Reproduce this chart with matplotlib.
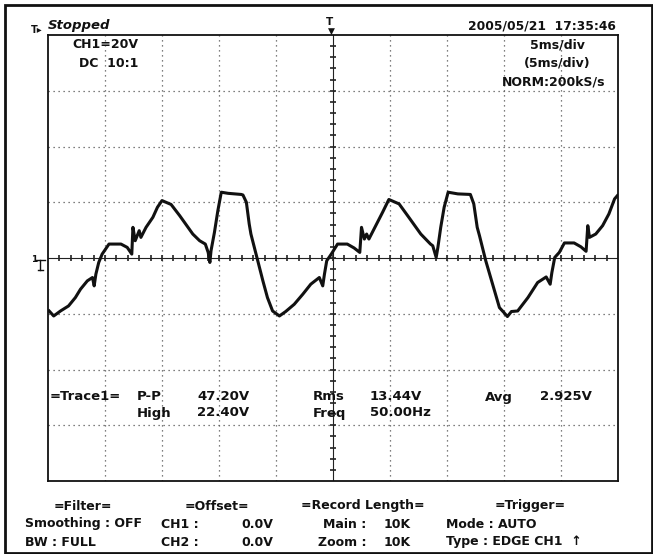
import matplotlib
matplotlib.use("Agg")
import matplotlib.pyplot as plt
from matplotlib.patches import Rectangle

# Scope settings
volts_per_div = 20
ms_per_div = 5

# CH1 trace (time in ms, voltage in V)
t_ms = [0.1, 0.5, 1.1, 1.8, 2.4, 2.85, 3.45, 3.9, 4.05, 4.2, 4.45, 4.75,
        5.35, 6.4, 6.95, 7.35, 7.45, 7.65, 8.0, 8.15, 8.6, 9.2, 9.6, 10.0,
        10.8, 11.55, 12.7, 13.3, 13.8, 14.05, 14.2, 14.3, 14.6, 14.9, 15.2,
        15.8, 16.95, 17.1, 17.4, 17.65, 17.8, 18.1, 18.4, 18.85, 19.25, 19.7,
        20.3, 20.85, 21.6, 22.35, 23.05, 23.8, 24.1, 24.25, 24.45, 24.85,
        25.4, 26.25, 26.85, 27.35, 27.5, 27.75, 27.95, 28.15, 28.6, 29.35,
        29.9, 30.8, 31.65, 32.7, 33.55, 33.75, 34.05, 34.2, 34.45, 34.75,
        35.1, 35.95, 37.05, 37.35, 37.65, 37.85, 38.4, 39.0, 39.6, 40.0,
        40.3, 40.65, 41.2, 42.1, 42.95, 43.7, 44.05, 44.2, 44.45, 44.85,
        45.3, 46.15, 46.75, 47.2, 47.35, 47.5, 48.05, 48.65, 49.2, 49.7, 49.95]
ch1_v = [-19.0, -20.8, -19.0, -17.2, -14.2, -11.2, -8.2, -7.0, -10.0, -5.8, -1.6, 1.4,
         5.0, 5.0, 3.8, 1.4, 11.0, 6.2, 9.8, 7.4, 11.0, 14.6, 18.2, 20.6,
         19.2, 15.2, 8.6, 6.2, 5.0, 2.0, -1.6, 2.6, 9.2, 17.0, 23.6,
         23.2, 22.8, 22.6, 20.0, 12.2, 8.6, 3.8, -1.0, -8.2, -14.2, -19.0,
         -20.8, -19.2, -16.6, -13.0, -9.4, -7.0, -10.0, -5.8, -1.0, 1.4,
         5.0, 5.0, 3.6, 2.0, 11.0, 6.8, 8.6, 6.8, 10.4, 16.4,
         21.0, 19.4, 14.6, 8.6, 5.0, 4.4, 0.2, 3.8, 11.0, 18.2,
         23.6, 23.0, 22.8, 19.4, 11.0, 8.0, -1.0, -9.4, -17.8, -19.6,
         -21.0, -19.2, -19.0, -14.2, -8.8, -6.8, -9.4, -5.2, 0.2, 2.0,
         5.4, 5.4, 4.0, 2.4, 11.6, 7.4, 8.6, 11.6, 15.8, 21.2, 22.4]

# Readouts
meas_labels = [["P-P", "47.20V"], ["High", "22.40V"],
               ["Rms", "13.44V"], ["Freq", "50.00Hz"], ["Avg", "2.925V"]]

W, H = 653, 554
fig = plt.figure(figsize=(W / 100, H / 100), dpi=100)
fig.patch.set_facecolor("white")


def fx(x):
    return x / W


def fy(y):
    return 1 - y / H


def put(x, y, s, size=9, ha="left", **kw):
    kw.setdefault("weight", "bold")
    fig.text(fx(x), fy(y), s, ha=ha, va="center", fontsize=size,
             family="DejaVu Sans", color="#111111", **kw)


# outer frame of the printout
fig.add_artist(Rectangle((fx(5), fy(553)), fx(647), 548 / H, transform=fig.transFigure,
                         fill=False, lw=2.0, ec="#111111"))

# graticule
ax = fig.add_axes([fx(48), fy(481), 570 / W, 446 / H])
xmax = 10 * ms_per_div
ymax = 4 * volts_per_div
ax.set_xlim(0, xmax)
ax.set_ylim(-ymax, ymax)
ax.set_xticks([])
ax.set_yticks([])
for s in ax.spines.values():
    s.set_linewidth(1.3)
    s.set_color("#111111")

for k in range(1, 10):
    if k != 5:
        ax.axvline(k * ms_per_div, color="#555555", lw=0.9, ls=(0, (1, 3)))
for k in range(-3, 4):
    if k != 0:
        ax.axhline(k * volts_per_div, color="#555555", lw=0.9, ls=(0, (1, 3)))

# centre cross with minor ticks every 1/5 division
ax.axhline(0, color="#222222", lw=0.8)
ax.axvline(xmax / 2, color="#222222", lw=0.8)
minor_t = [i * ms_per_div / 5 for i in range(1, 50)]
minor_v = [i * volts_per_div / 5 for i in range(-19, 20)]
ax.plot(minor_t, [0] * len(minor_t), ls="none", marker="|", ms=5, mew=1.2, color="#222222")
ax.plot([xmax / 2] * len(minor_v), minor_v, ls="none", marker="_", ms=5, mew=1.2, color="#222222")

# the trace
ax.plot(t_ms, ch1_v, color="#111111", lw=2.2, solid_joinstyle="round", zorder=5)

# header
put(48, 26, "Stopped", size=9.5, style="italic")
put(31, 30, "T\u25B8", size=7)
put(330, 22, "T", size=7.5, ha="center")
fig.text(fx(331), fy(31), "\u25BC", fontsize=6.5, ha="center", va="center", color="#111111")
put(616, 26, "2005/05/21  17:35:46", size=8.8, ha="right")
put(138, 45, "CH1=20V", size=9, ha="right")
put(138, 63, "DC  10:1", size=9, ha="right")
put(557, 45, "5ms/div", size=9, ha="center")
put(557, 63, "(5ms/div)", size=9, ha="center")
put(554, 82, "NORM:200kS/s", size=9, ha="center")

# ground marker for CH1
put(31, 259, "1", size=6.5)
gx = fx(40)
fig.add_artist(plt.Line2D([fx(36), fx(45)], [fy(260), fy(260)], color="#111111", lw=1))
fig.add_artist(plt.Line2D([gx, gx], [fy(260), fy(270)], color="#111111", lw=1))
fig.add_artist(plt.Line2D([fx(37.5), fx(42.5)], [fy(270), fy(270)], color="#111111", lw=1))

# measurements
msz = 9.5
put(50, 397, "=Trace1=", size=msz)
put(137, 397, meas_labels[0][0], size=msz)
put(197, 397, meas_labels[0][1], size=msz)
put(137, 413, meas_labels[1][0], size=msz)
put(197, 413, meas_labels[1][1], size=msz)
put(313, 397, meas_labels[2][0], size=msz)
put(370, 397, meas_labels[2][1], size=msz)
put(313, 413, meas_labels[3][0], size=msz)
put(370, 413, meas_labels[3][1], size=msz)
put(485, 397, meas_labels[4][0], size=msz)
put(540, 397, meas_labels[4][1], size=msz)

# bottom status block
bsz = 9
put(83, 506, "=Filter=", size=bsz, ha="center")
put(25, 524, "Smoothing : OFF", size=bsz)
put(25, 542, "BW : FULL", size=bsz)
put(217, 506, "=Offset=", size=bsz, ha="center")
put(161, 524, "CH1 :", size=bsz)
put(273, 524, "0.0V", size=bsz, ha="right")
put(161, 542, "CH2 :", size=bsz)
put(273, 542, "0.0V", size=bsz, ha="right")
put(363, 506, "=Record Length=", size=bsz, ha="center")
put(366, 524, "Main :", size=bsz, ha="right")
put(411, 524, "10K", size=bsz, ha="right")
put(366, 542, "Zoom :", size=bsz, ha="right")
put(411, 542, "10K", size=bsz, ha="right")
put(530, 506, "=Trigger=", size=bsz, ha="center")
put(446, 524, "Mode : AUTO", size=bsz)
put(446, 542, "Type : EDGE CH1  \u2191", size=bsz)

fig.savefig("out.png", dpi=100)
